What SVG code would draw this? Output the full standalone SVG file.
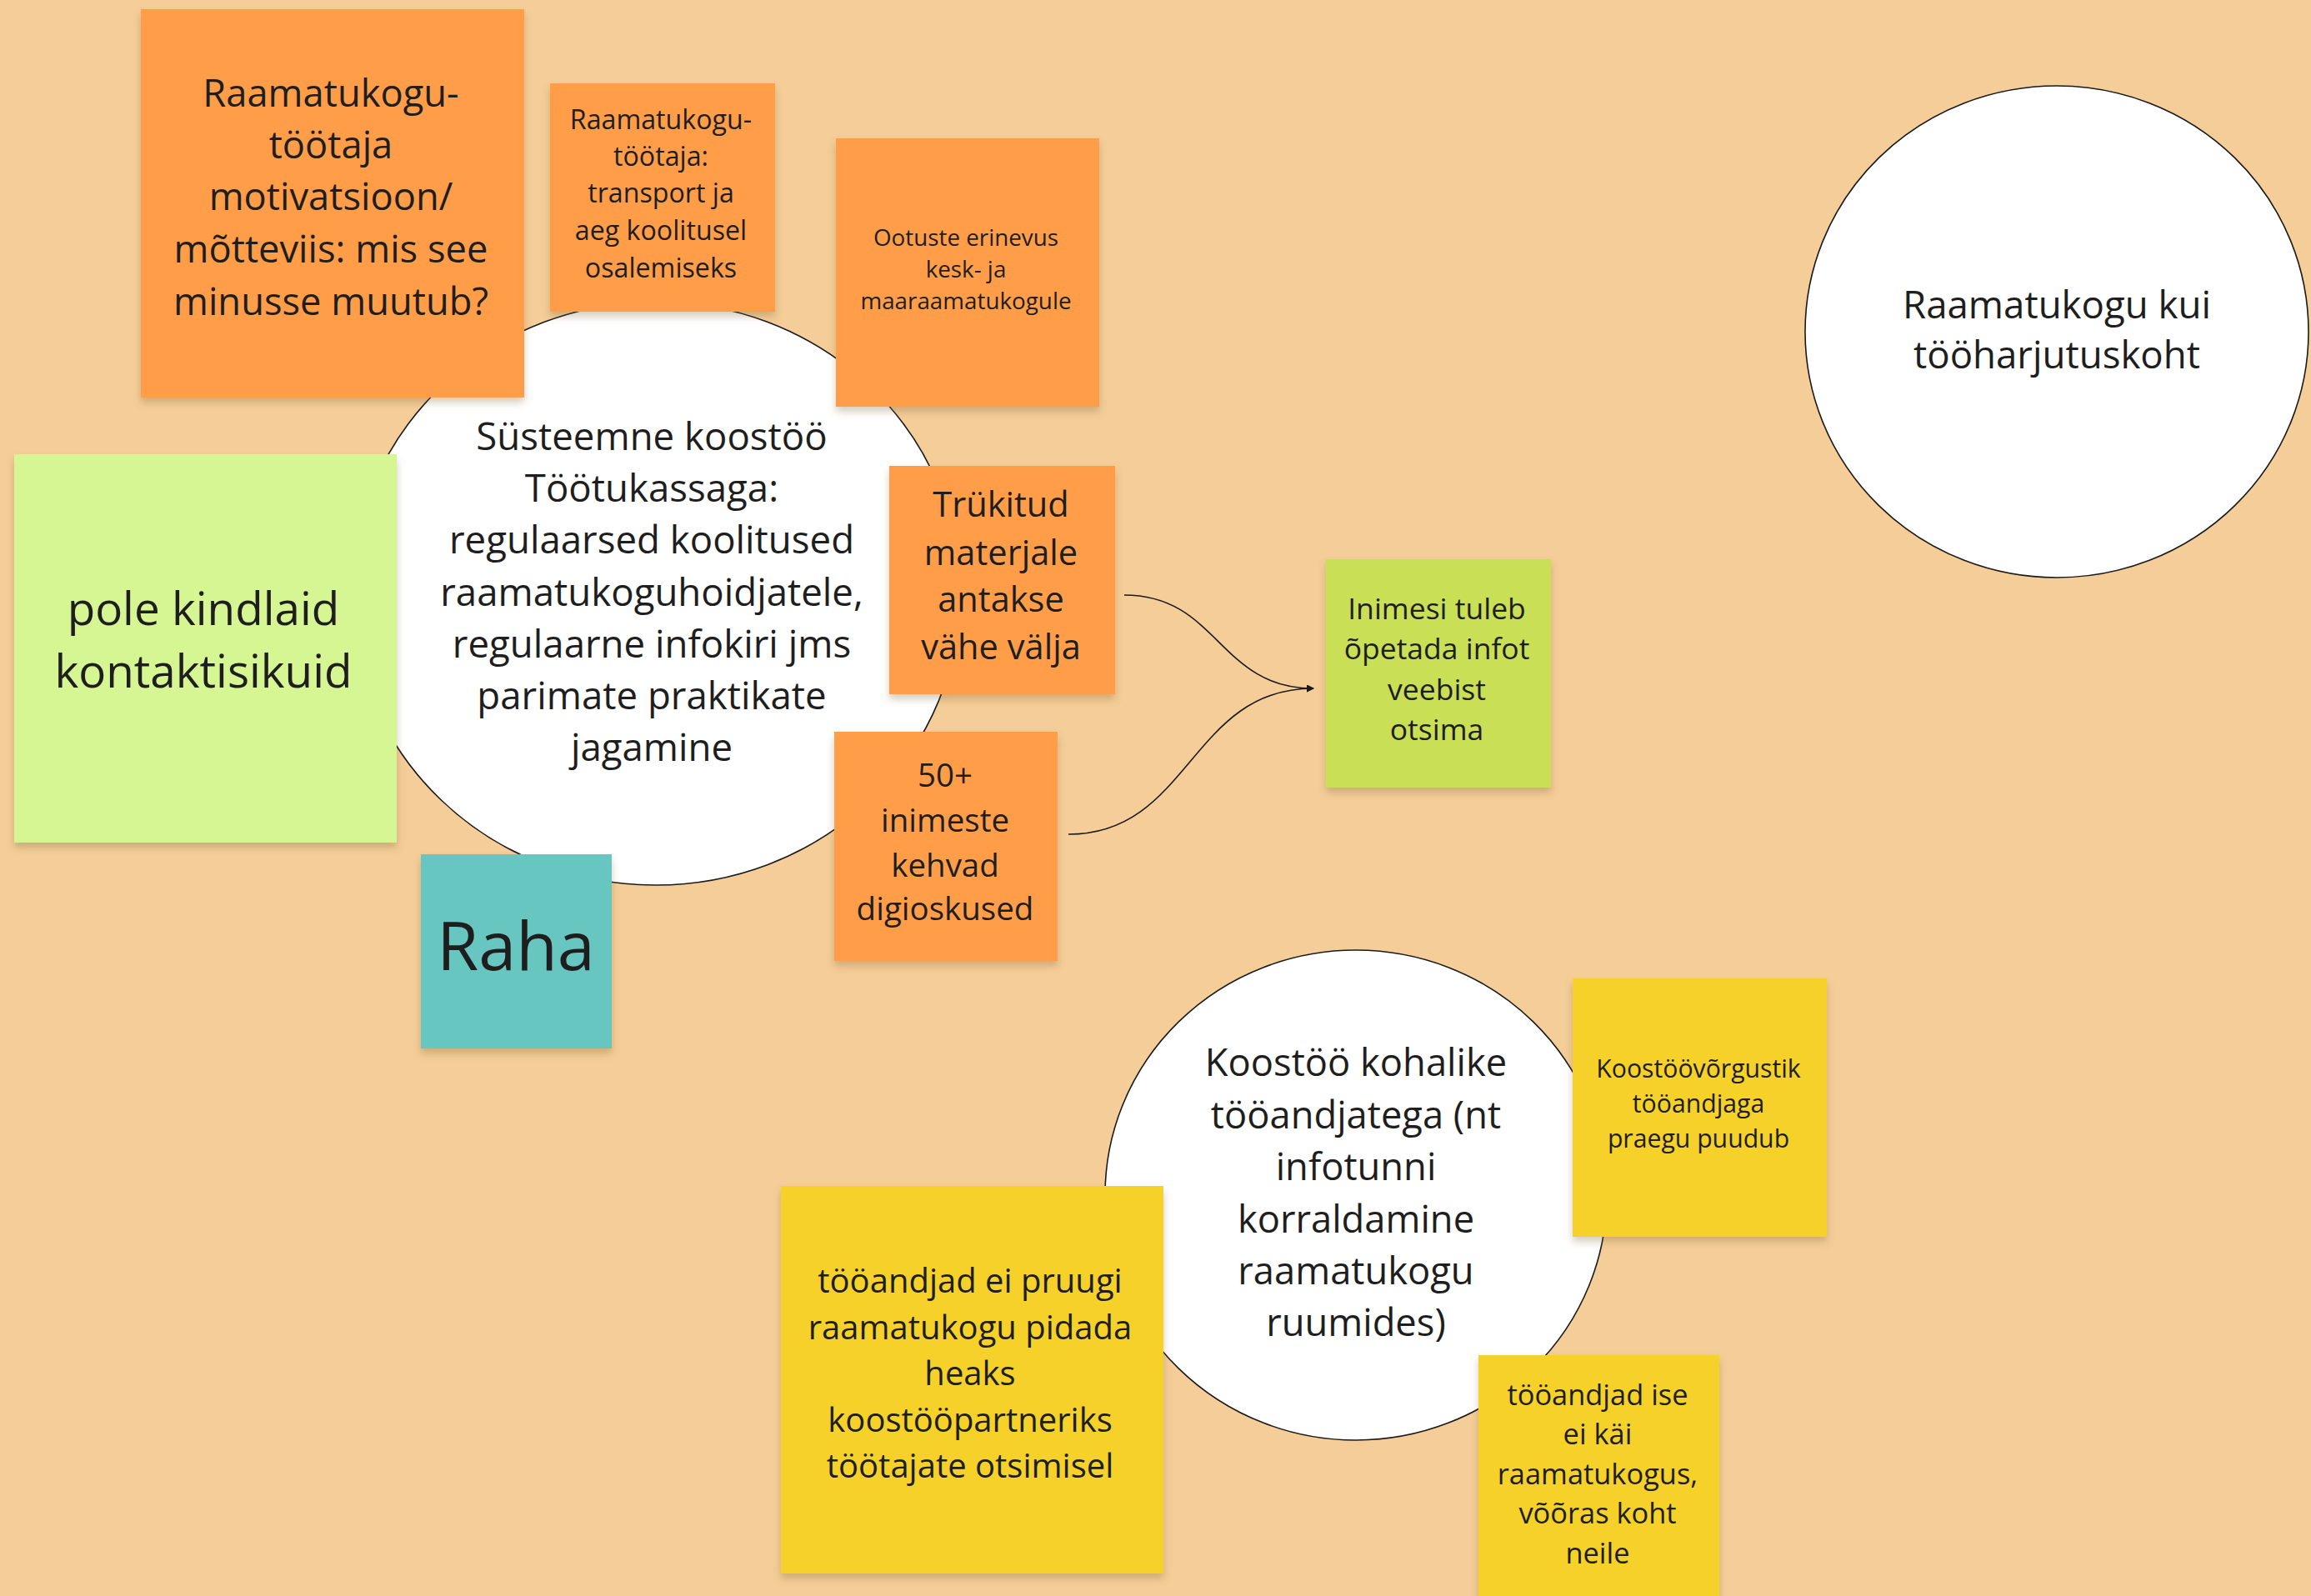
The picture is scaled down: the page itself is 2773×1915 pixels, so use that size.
<svg xmlns="http://www.w3.org/2000/svg" width="2773" height="1915" viewBox="0 0 2773 1915">
<style>
text{font-family:"Open Sans","Noto Sans","Liberation Sans",sans-serif;fill:#1e1e1e;text-anchor:middle}
.circle{fill:#ffffff;stroke:#1a1a1a;stroke-width:1.6}
.orange{fill:#FF9D48}
.lgreen{fill:#D5F692}
.lime{fill:#C9DF56}
.teal{fill:#67C6C0}
.yellow{fill:#F5D12A}
.sticky{filter:url(#shadow)}
.conn{fill:none;stroke:#1a1a1a;stroke-width:1.6}
</style>
<defs>
<filter id="shadow" x="-10%" y="-10%" width="120%" height="125%">
<feDropShadow dx="0" dy="6" stdDeviation="5" flood-color="#7a5a30" flood-opacity="0.3"/>
</filter>
<marker id="arrow" viewBox="0 0 10 10" refX="9" refY="5" markerWidth="9" markerHeight="9" markerUnits="userSpaceOnUse" orient="auto">
<path d="M0,0 L10,5 L0,10 z" fill="#1a1a1a"/>
</marker>
</defs>
<rect x="0" y="0" width="2773" height="1915" fill="#F4CD98"/>

<g id="c-systeemne">
<ellipse class="circle" cx="787" cy="712" rx="365" ry="350"/>
<text font-size="45.6"><tspan x="782" y="540">Süsteemne koostöö</tspan><tspan x="782" y="602">Töötukassaga:</tspan><tspan x="782" y="664">regulaarsed koolitused</tspan><tspan x="782" y="727">raamatukoguhoidjatele,</tspan><tspan x="782" y="789">regulaarne infokiri jms</tspan><tspan x="782" y="851">parimate praktikate</tspan><tspan x="782" y="913">jagamine</tspan></text>
</g>

<g id="c-tooharjutus">
<ellipse class="circle" cx="2468" cy="398" rx="302" ry="295"/>
<text font-size="45.6"><tspan x="2468" y="382">Raamatukogu kui</tspan><tspan x="2468" y="442">tööharjutuskoht</tspan></text>
</g>

<g id="c-koostoo">
<ellipse class="circle" cx="1627" cy="1434" rx="301" ry="294"/>
<text font-size="45.3"><tspan x="1627" y="1291">Koostöö kohalike</tspan><tspan x="1627" y="1354">tööandjatega (nt</tspan><tspan x="1627" y="1416">infotunni</tspan><tspan x="1627" y="1479">korraldamine</tspan><tspan x="1627" y="1541">raamatukogu</tspan><tspan x="1627" y="1603">ruumides)</tspan></text>
</g>

<g id="n-motivatsioon">
<rect class="orange sticky" x="169" y="11" width="460" height="466"/>
<text font-size="45.3"><tspan x="397" y="128">Raamatukogu-</tspan><tspan x="397" y="190">töötaja</tspan><tspan x="397" y="252">motivatsioon/</tspan><tspan x="397" y="315">mõtteviis: mis see</tspan><tspan x="397" y="378">minusse muutub?</tspan></text>
</g>

<g id="n-transport">
<rect class="orange sticky" x="660" y="100" width="270" height="274"/>
<text font-size="32.2"><tspan x="793" y="155">Raamatukogu-</tspan><tspan x="793" y="199">töötaja:</tspan><tspan x="793" y="243">transport ja</tspan><tspan x="793" y="288">aeg koolitusel</tspan><tspan x="793" y="333">osalemiseks</tspan></text>
</g>

<g id="n-ootuste">
<rect class="orange sticky" x="1003" y="166" width="316" height="322"/>
<text font-size="27.8"><tspan x="1159" y="295">Ootuste erinevus</tspan><tspan x="1159" y="333">kesk- ja</tspan><tspan x="1159" y="371">maaraamatukogule</tspan></text>
</g>

<g id="n-pole">
<rect class="lgreen sticky" x="17" y="545" width="459" height="466"/>
<text font-size="54.8"><tspan x="244" y="750">pole kindlaid</tspan><tspan x="244" y="825">kontaktisikuid</tspan></text>
</g>

<g id="n-raha">
<rect class="teal sticky" x="505" y="1025" width="229" height="233"/>
<text font-size="81"><tspan x="619" y="1164">Raha</tspan></text>
</g>

<g id="n-trukitud">
<rect class="orange sticky" x="1067" y="559" width="271" height="274"/>
<text font-size="41.6"><tspan x="1201" y="620">Trükitud</tspan><tspan x="1201" y="678">materjale</tspan><tspan x="1201" y="734">antakse</tspan><tspan x="1201" y="791">vähe välja</tspan></text>
</g>

<g id="n-50">
<rect class="orange sticky" x="1001" y="878" width="268" height="275"/>
<text font-size="38.5"><tspan x="1134" y="944">50+</tspan><tspan x="1134" y="998">inimeste</tspan><tspan x="1134" y="1052">kehvad</tspan><tspan x="1134" y="1104">digioskused</tspan></text>
</g>

<g id="n-inimesi">
<rect class="lime sticky" x="1591" y="671" width="270" height="274"/>
<text font-size="35.5"><tspan x="1724" y="743">Inimesi tuleb</tspan><tspan x="1724" y="791">õpetada infot</tspan><tspan x="1724" y="840">veebist</tspan><tspan x="1724" y="888">otsima</tspan></text>
</g>

<g id="n-vorgustik">
<rect class="yellow sticky" x="1887" y="1174" width="305" height="310"/>
<text font-size="30.2"><tspan x="2038" y="1293">Koostöövõrgustik</tspan><tspan x="2038" y="1335">tööandjaga</tspan><tspan x="2038" y="1377">praegu puudub</tspan></text>
</g>

<g id="n-pruugi">
<rect class="yellow sticky" x="937" y="1423" width="459" height="465"/>
<text font-size="40"><tspan x="1164" y="1551">tööandjad ei pruugi</tspan><tspan x="1164" y="1607">raamatukogu pidada</tspan><tspan x="1164" y="1662">heaks</tspan><tspan x="1164" y="1718">koostööpartneriks</tspan><tspan x="1164" y="1773">töötajate otsimisel</tspan></text>
</g>

<g id="n-ise">
<rect class="yellow sticky" x="1774" y="1626" width="289" height="300"/>
<text font-size="34.4"><tspan x="1917" y="1686">tööandjad ise</tspan><tspan x="1917" y="1733">ei käi</tspan><tspan x="1917" y="1781">raamatukogus,</tspan><tspan x="1917" y="1828">võõras koht</tspan><tspan x="1917" y="1876">neile</tspan></text>
</g>

<g id="connectors">
<path class="conn" d="M1349,714 C1462,714 1462,826 1576,826" marker-end="url(#arrow)"/>
<path class="conn" d="M1282,1001 C1428,1001 1428,826 1576,826" marker-end="url(#arrow)"/>
</g>
</svg>
